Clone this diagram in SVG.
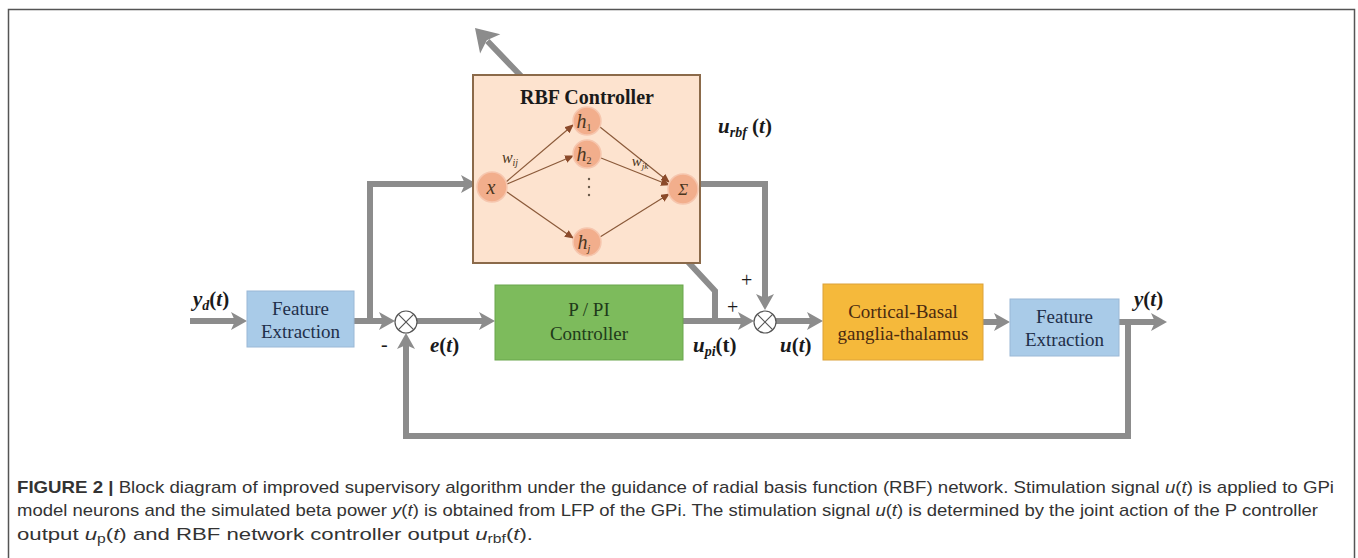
<svg xmlns="http://www.w3.org/2000/svg" width="1358" height="558" viewBox="0 0 1358 558">
<style>
.blk{font-family:"Liberation Serif",serif;font-size:19px;text-anchor:middle}
.conn{fill:none;stroke:#8c8c8c;stroke-width:6}
.lab{font-family:"Liberation Serif",serif;font-size:21px;font-weight:bold;fill:#1a1a1a}
.sum{fill:#fff;stroke:#555;stroke-width:1.2}
.nn{fill:#f2ae8c;stroke:#f6c6ae;stroke-width:1.5}
.ne{stroke:#8b5a3a;stroke-width:1.2;fill:none}
.nt{font-family:"Liberation Serif",serif;font-style:italic;fill:#4a3520;text-anchor:middle}
.cap{font-family:"Liberation Sans",sans-serif;font-size:17px;fill:#333}
</style>
<defs>
<marker id="ah" markerUnits="userSpaceOnUse" markerWidth="17" markerHeight="20" refX="5" refY="10" orient="auto">
<path d="M0,1 L16,10 L0,19 L4,10 z" fill="#8c8c8c"/>
</marker>
<marker id="sh" markerUnits="userSpaceOnUse" markerWidth="10" markerHeight="8" refX="8" refY="4" orient="auto">
<path d="M0,0 L9,4 L0,8 z" fill="#8b4a2a"/>
</marker>
</defs>
<rect x="8.5" y="9.5" width="1346" height="570" fill="#fff" stroke="#555" stroke-width="1.5"/>

<g id="connectors">
<path class="conn" d="M715,322 V291 L690,264 L520,75 L487.4,41" stroke-width="8"/>
<polygon points="475,28 500.3,34.2 486.8,40.3 480.1,53.6" fill="#8c8c8c"/>
<line class="conn" x1="190" y1="321" x2="236" y2="321" marker-end="url(#ah)"/>
<line class="conn" x1="354" y1="321" x2="384" y2="321" marker-end="url(#ah)"/>
<polyline class="conn" points="370,321 370,184 466,184" marker-end="url(#ah)"/>
<line class="conn" x1="417" y1="321" x2="484" y2="321" marker-end="url(#ah)"/>
<line class="conn" x1="683" y1="321" x2="743" y2="321" marker-end="url(#ah)"/>
<polyline class="conn" points="698,184 765,184 765,299" marker-end="url(#ah)"/>
<line class="conn" x1="776" y1="321" x2="812" y2="321" marker-end="url(#ah)"/>
<line class="conn" x1="983" y1="322" x2="999" y2="322" marker-end="url(#ah)"/>
<line class="conn" x1="1119" y1="322" x2="1156" y2="322" marker-end="url(#ah)"/>
<polyline class="conn" points="1128,322 1128,436 406,436 406,344" marker-end="url(#ah)"/>
</g>

<g id="rbf">
<rect x="473" y="75" width="227" height="188" fill="#fde3cf" stroke="#8b6a4a" stroke-width="2"/>
<text x="587" y="104" class="blk" style="font-size:20px" font-weight="bold" fill="#1a1a1a">RBF Controller</text>
<line class="ne" x1="506" y1="182" x2="573" y2="125" marker-end="url(#sh)"/>
<line class="ne" x1="507" y1="184" x2="573" y2="156" marker-end="url(#sh)"/>
<line class="ne" x1="507" y1="192" x2="573" y2="238" marker-end="url(#sh)"/>
<line class="ne" x1="600" y1="127" x2="669" y2="182" marker-end="url(#sh)"/>
<line class="ne" x1="601" y1="158" x2="669" y2="185" marker-end="url(#sh)"/>
<line class="ne" x1="600" y1="237" x2="669" y2="194" marker-end="url(#sh)"/>
<circle class="nn" cx="492" cy="187" r="15"/>
<circle class="nn" cx="587" cy="121" r="14"/>
<circle class="nn" cx="587" cy="154" r="14"/>
<circle class="nn" cx="587" cy="242" r="14"/>
<circle class="nn" cx="683" cy="189" r="15"/>
<text x="491" y="194" class="nt" font-size="20">x</text>
<text x="584" y="128" class="nt" font-size="20">h<tspan font-size="10" font-style="normal" dy="3">1</tspan></text>
<text x="584" y="161" class="nt" font-size="20">h<tspan font-size="10" font-style="normal" dy="3">2</tspan></text>
<text x="584" y="249" class="nt" font-size="20">h<tspan font-size="10" dy="3">j</tspan></text>
<text x="683" y="195" class="nt" font-size="17" font-style="normal">Σ</text>
<circle cx="589" cy="179" r="1.2" fill="#6a5a4a"/>
<circle cx="589" cy="187" r="1.2" fill="#6a5a4a"/>
<circle cx="589" cy="195" r="1.2" fill="#6a5a4a"/>
<text x="510" y="163" class="nt" font-size="16">w<tspan font-size="10" dy="3">ij</tspan></text>
<text x="640" y="166" class="nt" font-size="15">w<tspan font-size="9" dy="3">jk</tspan></text>
</g>

<g id="fe1">
<rect x="247" y="291" width="107" height="56" fill="#a9cbe8" stroke="#9ab8d6" stroke-width="1"/>
<text x="300.5" y="315" class="blk" fill="#1f2f4a">Feature</text>
<text x="300.5" y="338" class="blk" fill="#1f2f4a">Extraction</text>
</g>

<g id="sum1">
<circle class="sum" cx="406" cy="322" r="11"/>
<path d="M398.2,314.2 L413.8,329.8 M413.8,314.2 L398.2,329.8" stroke="#555" stroke-width="1.2"/>
</g>

<g id="pi">
<rect x="495" y="285" width="188" height="75" fill="#7dbb5c" stroke="#6aa64c" stroke-width="1"/>
<text x="589" y="316" class="blk" fill="#1f3a1a">P / PI</text>
<text x="589" y="340" class="blk" fill="#1f3a1a">Controller</text>
</g>

<g id="sum2">
<circle class="sum" cx="765" cy="322" r="11"/>
<path d="M757.2,314.2 L772.8,329.8 M772.8,314.2 L757.2,329.8" stroke="#555" stroke-width="1.2"/>
</g>

<g id="cbgt">
<rect x="823" y="284" width="160" height="76" fill="#f5b93b" stroke="#dca23a" stroke-width="1"/>
<text x="903" y="318" class="blk" fill="#4a2a10">Cortical-Basal</text>
<text x="903" y="340" class="blk" fill="#4a2a10">ganglia-thalamus</text>
</g>

<g id="fe2">
<rect x="1010" y="299" width="109" height="57" fill="#a9cbe8" stroke="#9ab8d6" stroke-width="1"/>
<text x="1064.5" y="323" class="blk" fill="#1f2f4a">Feature</text>
<text x="1064.5" y="346" class="blk" fill="#1f2f4a">Extraction</text>
</g>

<g id="labels">
<text x="193" y="306" class="lab"><tspan font-style="italic">y</tspan><tspan font-style="italic" font-size="14" dy="4">d</tspan><tspan dy="-4">(</tspan><tspan font-style="italic">t</tspan>)</text>
<text x="430" y="352" class="lab"><tspan font-style="italic">e</tspan>(<tspan font-style="italic">t</tspan>)</text>
<text x="693" y="352" class="lab"><tspan font-style="italic">u</tspan><tspan font-style="italic" font-size="14" dy="4">pi</tspan><tspan dy="-4">(t)</tspan></text>
<text x="780" y="352" class="lab"><tspan font-style="italic">u</tspan>(<tspan font-style="italic">t</tspan>)</text>
<text x="1134" y="306" class="lab"><tspan font-style="italic">y</tspan>(<tspan font-style="italic">t</tspan>)</text>
<text x="718" y="133" class="lab"><tspan font-style="italic">u</tspan><tspan font-style="italic" font-size="14" dy="4">rbf</tspan><tspan dy="-4"> (</tspan><tspan font-style="italic">t</tspan>)</text>
<text x="741" y="287" font-family="Liberation Serif,serif" font-size="20" fill="#1a1a1a">+</text>
<text x="727" y="314" font-family="Liberation Serif,serif" font-size="20" fill="#1a1a1a">+</text>
<text x="381" y="351" font-family="Liberation Serif,serif" font-size="20" fill="#1a1a1a">-</text>
</g>

<g id="caption">
<text x="17" y="493" class="cap" textLength="1317" lengthAdjust="spacingAndGlyphs"><tspan font-weight="bold">FIGURE 2 |</tspan> Block diagram of improved supervisory algorithm under the guidance of radial basis function (RBF) network. Stimulation signal <tspan font-style="italic">u</tspan>(<tspan font-style="italic">t</tspan>) is applied to GPi</text>
<text x="17" y="516" class="cap" textLength="1301" lengthAdjust="spacingAndGlyphs">model neurons and the simulated beta power <tspan font-style="italic">y</tspan>(<tspan font-style="italic">t</tspan>) is obtained from LFP of the GPi. The stimulation signal <tspan font-style="italic">u</tspan>(<tspan font-style="italic">t</tspan>) is determined by the joint action of the P controller</text>
<text x="17" y="540" class="cap" textLength="516" lengthAdjust="spacingAndGlyphs">output <tspan font-style="italic">u</tspan><tspan font-size="12" dy="3">p</tspan><tspan dy="-3">(</tspan><tspan font-style="italic">t</tspan>) and RBF network controller output <tspan font-style="italic">u</tspan><tspan font-size="12" dy="3">rbf</tspan><tspan dy="-3">(</tspan><tspan font-style="italic">t</tspan>).</text>
</g>
</svg>
